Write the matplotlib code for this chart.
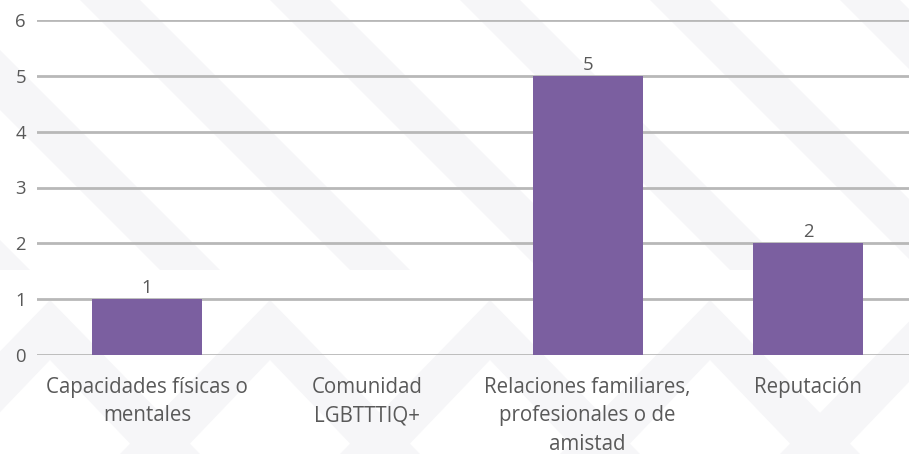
import matplotlib
matplotlib.use("Agg")
import matplotlib.pyplot as plt
from matplotlib.patches import Polygon

categories = ["Capacidades físicas o\nmentales", "Comunidad\nLGBTTTIQ+",
              "Relaciones familiares,\nprofesionales o de\namistad", "Reputación"]
values = [1, 0, 5, 2]
yticks = [0, 1, 2, 3, 4, 5, 6]

plt.rcParams['font.family'] = ['Open Sans', 'DejaVu Sans']
text_color = "#595959"
bar_color = "#7B5FA0"
grid_color = "#b8b8b8"
fs = 14.8

fig = plt.figure(figsize=(9.09, 4.54), dpi=100)
fig.patch.set_facecolor("white")

# faint diagonal watermark bands behind the chart
bg = fig.add_axes([0, 0, 1, 1], zorder=0)
bg.set_xlim(0, 909)
bg.set_ylim(454, 0)
bg.axis("off")
band = "#f6f6f8"
for x0 in range(-300, 1100, 190):
    bg.add_patch(Polygon([(x0, 0), (x0 + 60, 0), (x0 + 330, 270), (x0 + 270, 270)],
                         closed=True, color=band, lw=0))
for x0 in range(-100, 1100, 220):
    bg.add_patch(Polygon([(x0, 454), (x0 + 150, 300), (x0 + 300, 454),
                          (x0 + 240, 454), (x0 + 150, 360), (x0 + 60, 454)],
                         closed=True, color=band, lw=0))

ax = fig.add_axes([37 / 909, 1 - 355 / 454, 881 / 909, 335 / 454], zorder=1)
ax.patch.set_alpha(0)
x = list(range(len(categories)))
ax.bar(x, values, width=0.5, color=bar_color, zorder=3)
for xi, v in zip(x, values):
    if v:
        ax.text(xi, v + 0.04, str(v), ha="center", va="bottom",
                fontsize=fs * 0.9, color=text_color)

ax.set_xlim(-0.5, len(categories) - 0.5)
ax.set_ylim(0, 6)
ax.set_yticks(yticks)
ax.set_yticklabels([str(t) for t in yticks], fontsize=fs * 0.9, color=text_color)
ax.set_xticks(x)
ax.set_xticklabels(categories, fontsize=fs, color=text_color, linespacing=1.45)
ax.tick_params(axis="both", length=0)
ax.tick_params(axis="x", pad=16)
ax.tick_params(axis="y", pad=8)
ax.grid(axis="y", color=grid_color, linewidth=2, zorder=0)
ax.set_axisbelow(True)
for s in ax.spines.values():
    s.set_visible(False)

fig.savefig("out.png", dpi=100)
